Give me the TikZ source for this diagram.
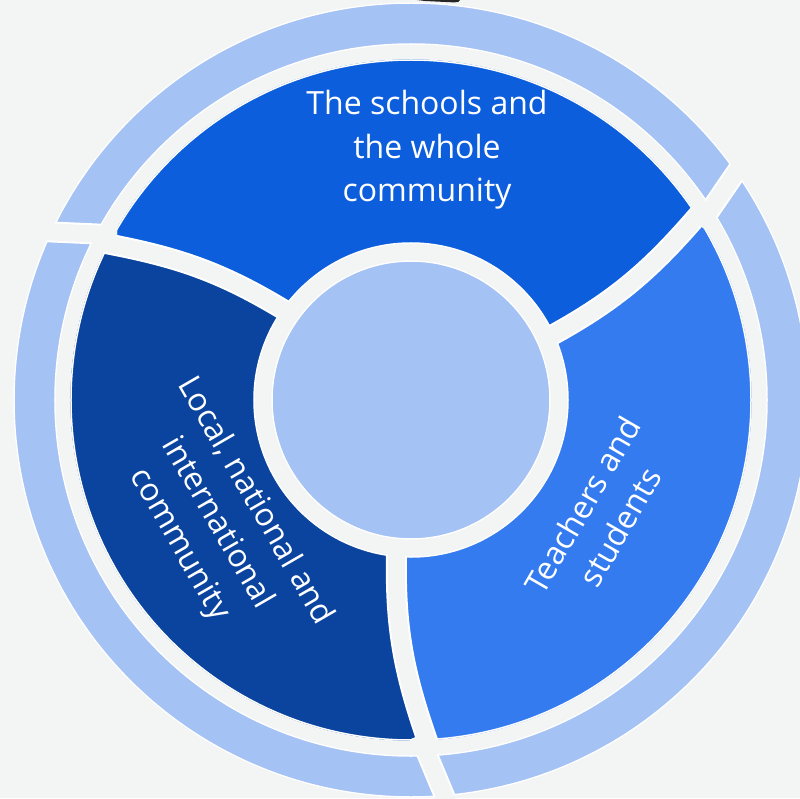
\documentclass[tikz,border=0pt]{standalone}
\usepackage{fontspec}
\setmainfont{Open Sans}
\definecolor{bgc}{HTML}{F2F5F4}
\definecolor{ringc}{HTML}{A4C2F4}
\definecolor{topc}{HTML}{0D5EDC}
\definecolor{rightc}{HTML}{347BF0}
\definecolor{leftc}{HTML}{0B449E}
\tikzset{
  edgeline/.style={draw=white, line width=1.5pt},
  gapwhite/.style={draw=white, line width=21pt},
  gapbg/.style={draw=bgc, line width=17pt},
  txt/.style={text=white, font=\fontsize{32}{43.5}\selectfont, align=center, inner sep=0pt},
}
\begin{document}
\begin{tikzpicture}[x=1pt,y=1pt]
\useasboundingbox (-411,-398) rectangle (389,400);
% background
\fill[bgc] (-411,-398) rectangle (389,400);
% outer ring
\fill[ringc, even odd rule] (0,0) circle (397) circle (356);
% three segments
\begin{scope}
\clip (0,0) circle (341);
\fill[topc] (0,0) -- (24.5:150) to[out=28.5,in=229.5] (33.1:348) -- (33.1:430)
  arc[start angle=33.1, end angle=153.1, radius=430] -- (153.1:348)
  to[out=349.5,in=148.5] (144.5:150) -- cycle;
\fill[leftc] (0,0) -- (144.5:150) to[out=148.5,in=349.5] (153.1:348) -- (153.1:430)
  arc[start angle=153.1, end angle=273.1, radius=430] -- (273.1:348)
  to[out=109.5,in=268.5] (264.5:150) -- cycle;
\fill[rightc] (0,0) -- (264.5:150) to[out=268.5,in=109.5] (273.1:348) -- (273.1:430)
  arc[start angle=273.1, end angle=393.1, radius=430] -- (33.1:348)
  to[out=229.5,in=28.5] (24.5:150) -- cycle;
\end{scope}
\fill[bgc] (0,0) circle (157);
\fill[ringc] (0,0) circle (139);
% white outlines
\foreach \r in {397,356,340,157,139} \draw[edgeline] (0,0) circle (\r);
% dividers: white edges
\draw[gapwhite] (24.5:150) to[out=28.5,in=229.5] (33.1:348);
\draw[gapwhite] (144.5:150) to[out=148.5,in=349.5] (153.1:348);
\draw[gapwhite] (264.5:150) to[out=268.5,in=109.5] (273.1:348);
\draw[gapwhite] (288.7,174.5) -- (337.3,245.5);
\draw[gapwhite] (-294,165.1) -- (-379,168.9);
\draw[gapwhite] (8.3,-335.6) -- (41.7,-415.4);
% dividers: background
\draw[gapbg] (24.5:150) to[out=28.5,in=229.5] (33.1:348);
\draw[gapbg] (144.5:150) to[out=148.5,in=349.5] (153.1:348);
\draw[gapbg] (264.5:150) to[out=268.5,in=109.5] (273.1:348);
\draw[gapbg] (288.7,174.5) -- (337.3,245.5);
\draw[gapbg] (-294,165.1) -- (-379,168.9);
\draw[gapbg] (8.3,-335.6) -- (41.7,-415.4);
% clean the gap rings
\fill[bgc, even odd rule] (0,0) circle (355.25) circle (340.75);
\fill[bgc, even odd rule] (0,0) circle (156.25) circle (139.75);
\fill[bgc, even odd rule] (-411,-398) rectangle (389,400) (0,0) circle (397.75);
% small dark mark at the top edge
\fill[black!85] (6,400) -- (49,400) .. controls (48,398) .. (43,397.6) -- (14,399) -- cycle;
% texts
\node[txt] (schools) at (16,250) {The schools and\\the whole\\community};
\node[txt, rotate=60] (teachers) at (190,-116) {Teachers and\\students};
\node[txt, rotate=-60] (local) at (-194,-123) {Local, national and\\international\\community};
\end{tikzpicture}
\end{document}
